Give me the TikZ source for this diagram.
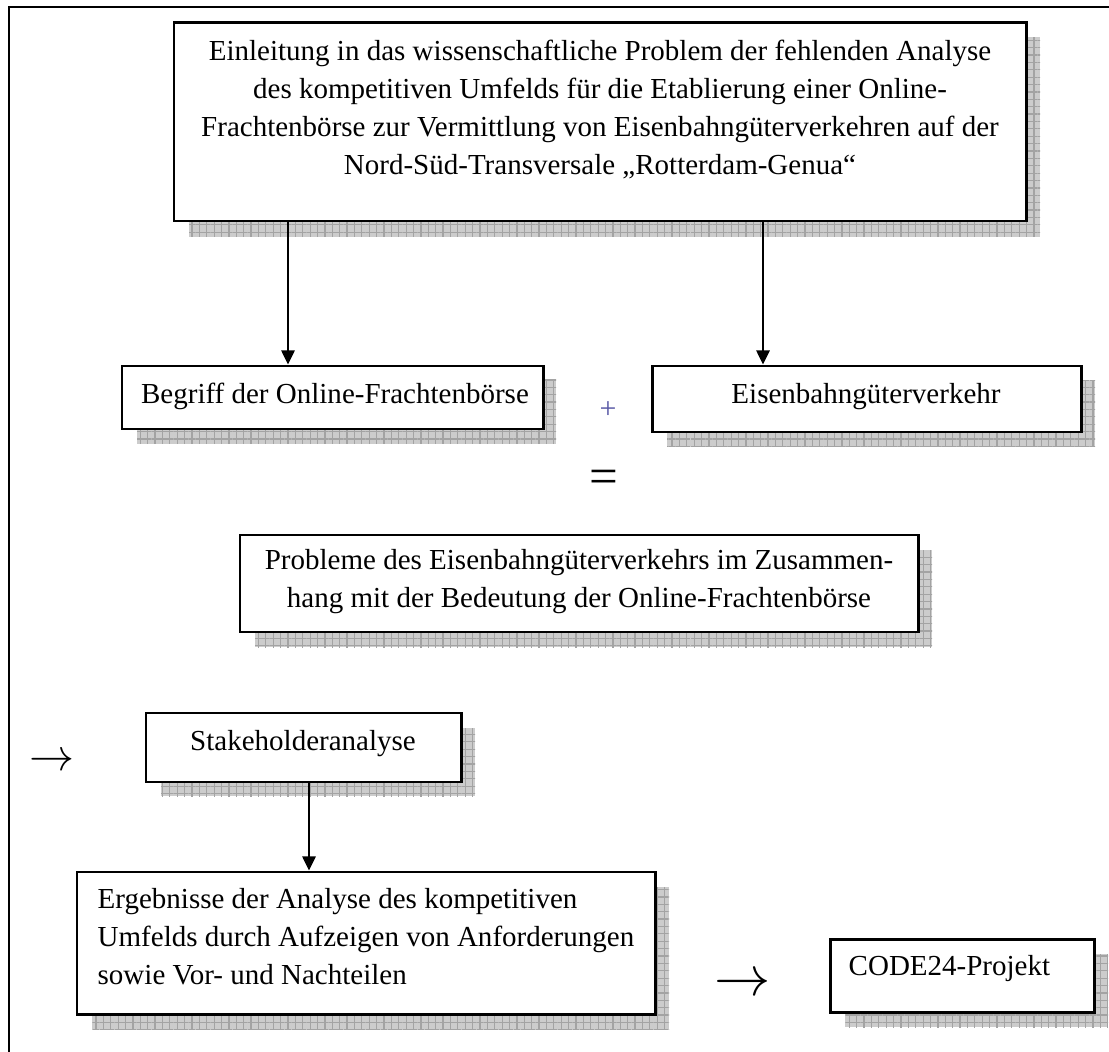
\documentclass[tikz,border=0pt]{standalone}
\usepackage{fontspec}
\setmainfont{Liberation Serif}
\usetikzlibrary{arrows.meta,fit,patterns.meta}
\definecolor{plusc}{rgb}{0.35,0.35,0.65}
\tikzset{
  frameline/.style={line width=0.6pt},
  boxst/.style={draw, fill=white, line width=0.85pt, inner sep=0pt},
  shadowst/.style={fill=black!20, postaction={pattern={Lines[distance=2.1pt,angle=0,line width=0.35pt]}, pattern color=black!36}, postaction={pattern={Lines[distance=2.1pt,angle=90,line width=0.35pt]}, pattern color=black!36}},
  txt/.style={font=\fontsize{8.25}{10.8}\selectfont, inner sep=0pt, anchor=base},
  txtl/.style={txt, anchor=base west},
  conn/.style={line width=0.45pt, -{Triangle[width=3.8pt,length=4pt]}},
}
\begin{document}
\begin{tikzpicture}[x=0.01cm,y=-0.01cm]
\useasboundingbox (0,0) rectangle (1109,1052);
\clip (0,0) rectangle (1109,1052);
\draw[frameline] (9,1060) -- (9,7) -- (1120,7);

% intro box
\fill[shadowst] (189,37) rectangle (1040,237);
\node[boxst, fit={(174,23) (1026,221)}] (intro) {};
\node[txt] (i1) at (600,61) {Einleitung in das wissenschaftliche Problem der fehlenden Analyse};
\node[txt] (i2) at (600,99) {des kompetitiven Umfelds für die Etablierung einer Online-};
\node[txt] (i3) at (600,137) {Frachtenbörse zur Vermittlung von Eisenbahngüterverkehren auf der};
\node[txt] (i4) at (600,175) {Nord-Süd-Transversale „Rotterdam-Genua“};

% Begriff
\fill[shadowst] (137,380) rectangle (556,444);
\node[boxst, fit={(122,366) (543,429)}] (begriff) {};
\node[txt] (bt) at (335,404) {Begriff der Online-Frachtenbörse};

% Eisenbahn
\fill[shadowst] (667,381) rectangle (1095,447);
\node[boxst, fit={(652,366) (1081,432)}] (eisen) {};
\node[txt] (et) at (866,404) {Eisenbahngüterverkehr};

\draw[conn] (intro.south -| 288,0) -- (begriff.north -| 288,0);
\draw[conn] (intro.south -| 763,0) -- (eisen.north -| 763,0);

\node[inner sep=0pt, text=plusc, font=\fontsize{8.5}{10}\selectfont] (plus) at (608,410) {+};
\node[inner sep=0pt, font=\fontsize{14.5}{16}\selectfont] (eq) at (604,482) {=};

% Probleme
\fill[shadowst] (255,550) rectangle (932,647);
\node[boxst, fit={(240,535) (918,632)}] (probl) {};
\node[txt] (p1) at (579,570) {Probleme des Eisenbahngüterverkehrs im Zusammen-};
\node[txt] (p2) at (579,607) {hang mit der Bedeutung der Online-Frachtenbörse};

% arrow glyph 1
\node[inner sep=0pt] (arr1) at (52,762) {\scalebox{1.28}{$\rightarrow$}};

% Stakeholder
\fill[shadowst] (161,728) rectangle (475,796);
\node[boxst, fit={(146,713) (461,782)}] (stake) {};
\node[txt] (st) at (303,750) {Stakeholderanalyse};

% Ergebnisse
\fill[shadowst] (92,887) rectangle (669,1029);
\node[boxst, fit={(77,872) (655,1014)}] (erg) {};
\node[txtl] (e1) at (97,908) {Ergebnisse der Analyse des kompetitiven};
\node[txtl] (e2) at (97,946) {Umfelds durch Aufzeigen von Anforderungen};
\node[txtl] (e3) at (97,984) {sowie Vor- und Nachteilen};

\draw[conn] (stake.south -| 309,0) -- (erg.north -| 309,0);

% arrow glyph 2
\node[inner sep=0pt] (arr2) at (743,985) {\scalebox{1.6}{$\rightarrow$}};

% CODE24
\fill[shadowst] (845,954) rectangle (1108,1027);
\node[boxst, fit={(830,939) (1094,1012)}] (code) {};
\node[txtl] (ct) at (848,975) {CODE24-Projekt};
\end{tikzpicture}
\end{document}
